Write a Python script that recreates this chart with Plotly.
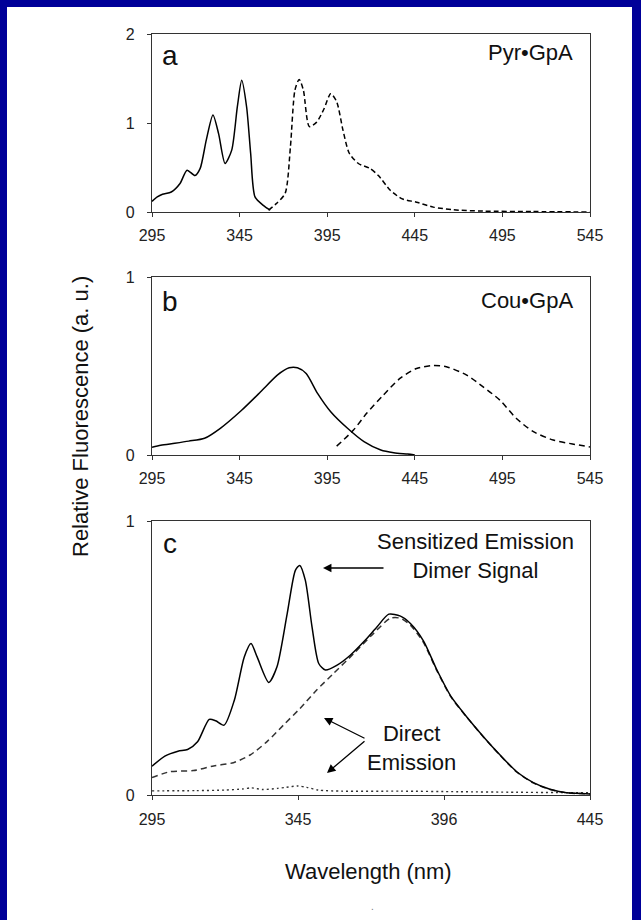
import plotly.graph_objects as go

# ---------------- data ----------------
# Panel a: Pyr-GpA
pyr_exc_x = [295, 298, 301, 306, 311, 315, 319.5, 322.5, 326, 329.8, 333, 336.7, 340.5, 343.7, 346.2, 349, 351.3, 353.8, 358.5, 362.5]
pyr_exc_y = [0.12, 0.17, 0.2, 0.225, 0.32, 0.47, 0.41, 0.49, 0.81, 1.09, 0.88, 0.545, 0.695, 1.18, 1.48, 1.18, 0.66, 0.17, 0.075, 0.02]
pyr_em_x = [361.5, 366, 371, 374, 376.6, 379, 381.4, 384.8, 389, 393.2, 397, 400.4, 404, 407.6, 412.8,
            419.4, 424.2, 431, 437.5, 446, 455.6, 467, 484, 512, 545]
pyr_em_y = [0.02, 0.095, 0.21, 0.73, 1.37, 1.49, 1.37, 0.96, 1.01, 1.16, 1.33, 1.24, 0.92, 0.66, 0.545,
            0.49, 0.41, 0.245, 0.15, 0.11, 0.055, 0.025, 0.01, 0.005, 0.0]

# Panel b: Cou-GpA
cou_exc_x = [295, 300, 308, 316, 325, 334, 346, 357, 366.7, 373.3, 378, 383, 389.5, 397, 406.6, 416, 425.6, 433, 441, 445]
cou_exc_y = [0.043, 0.055, 0.066, 0.078, 0.094, 0.15, 0.25, 0.355, 0.45, 0.49, 0.49, 0.458, 0.346, 0.243, 0.15, 0.075, 0.028, 0.013, 0.005, 0.0]
cou_em_x = [400.4, 410, 417.5, 427, 436.5, 446, 455.6, 463, 474.6, 484, 493.6, 503, 512.7, 524, 535, 545]
cou_em_y = [0.05, 0.14, 0.234, 0.336, 0.43, 0.486, 0.503, 0.496, 0.449, 0.383, 0.308, 0.205, 0.131, 0.084, 0.062, 0.045]

# Panel c: dimer
sens_x = [295, 299.4, 303.9, 307.2, 310.6, 314.6, 316.8, 319.7, 323.2, 326.6, 328.9, 331, 335, 337.8, 341.3,
          344.1, 345.6, 347.5, 349.8, 352.1, 354.4, 358.4, 362.9, 367.5, 372.1, 376.1, 380.1, 383.5, 388,
          392.5, 397.5, 402.8, 408.5, 414.2, 419.9, 425.6, 431.3, 437, 445]
sens_y = [0.105, 0.142, 0.16, 0.166, 0.194, 0.276, 0.271, 0.255, 0.346, 0.504, 0.553, 0.504, 0.411, 0.468, 0.662,
          0.82, 0.838, 0.784, 0.614, 0.48, 0.456, 0.474, 0.51, 0.559, 0.614, 0.66, 0.653, 0.626, 0.562,
          0.458, 0.358, 0.285, 0.213, 0.146, 0.085, 0.045, 0.021, 0.008, 0.004]
dir_cou_x = [295, 301.2, 309.2, 316.1, 322.9, 328.6, 334.3, 340, 345.7, 351.4, 357.2, 364, 370.9, 376.6, 380.1,
             383.5, 388, 392.5, 397.5, 402.8, 408.5, 414.2, 419.9, 425.6, 431.3, 437, 445]
dir_cou_y = [0.064, 0.085, 0.089, 0.106, 0.118, 0.146, 0.194, 0.255, 0.316, 0.383, 0.444, 0.515, 0.59, 0.645, 0.645,
             0.62, 0.556, 0.455, 0.356, 0.284, 0.212, 0.145, 0.084, 0.044, 0.02, 0.008, 0.004]
dir_pyr_x = [295, 310, 320, 326, 329, 333, 338, 341, 345, 348, 352, 360, 380, 400, 420, 445]
dir_pyr_y = [0.015, 0.016, 0.018, 0.022, 0.026, 0.02, 0.024, 0.028, 0.033, 0.028, 0.018, 0.014, 0.014, 0.012, 0.01, 0.008]

ticks_ab = [295, 345, 395, 445, 495, 545]
ticks_c = [295, 345, 395, 445]
ticktext_c = ["295", "345", "396", "445"]

# ---------------- layout helpers ----------------
W, H = 641, 920
FONT = "Liberation Sans, Arial, sans-serif"
BLUE = "#000099"
AX = "#333333"

def px(x):
    return x / W

def py(y):
    return 1 - y / H

x_dom = [px(152), px(590)]

fig = go.Figure()

def line(x, y, xa, ya, dash="solid", color="black", width=1.5):
    fig.add_trace(go.Scatter(x=x, y=y, xaxis=xa, yaxis=ya, mode="lines",
                             line=dict(color=color, width=width, dash=dash, shape="spline", smoothing=0.7),
                             showlegend=False, hoverinfo="skip"))

line(pyr_exc_x, pyr_exc_y, "x", "y")
line(pyr_em_x, pyr_em_y, "x", "y", dash="5px,3px")
line(cou_exc_x, cou_exc_y, "x2", "y2")
line(cou_em_x, cou_em_y, "x2", "y2", dash="6px,4px")
line(dir_pyr_x, dir_pyr_y, "x3", "y3", dash="2px,3px", color="#333333", width=1.4)
line(dir_cou_x, dir_cou_y, "x3", "y3", dash="6px,4px", color="#333333")
line(sens_x, sens_y, "x3", "y3")

axis_common = dict(showgrid=False, zeroline=False, showline=True, linecolor=AX, linewidth=1.3,
                   mirror=True, ticks="outside", ticklen=4, tickwidth=1.2, tickcolor=AX,
                   automargin=False,
                   tickfont=dict(family=FONT, size=16, color="#222222"))

fig.update_layout(
    width=W, height=H,
    margin=dict(l=0, r=0, t=0, b=0, pad=0, autoexpand=False),
    paper_bgcolor="white", plot_bgcolor="white",
    xaxis=dict(domain=x_dom, range=[295, 545], tickvals=ticks_ab, anchor="y",
               ticklabelstandoff=5, **axis_common),
    yaxis=dict(domain=[py(212), py(34)], range=[0, 2], tickvals=[0, 1, 2], anchor="x",
               ticklabelstandoff=9, **axis_common),
    xaxis2=dict(domain=x_dom, range=[295, 545], tickvals=ticks_ab, anchor="y2",
                ticklabelstandoff=5, **axis_common),
    yaxis2=dict(domain=[py(455), py(277)], range=[0, 1], tickvals=[0, 1], anchor="x2",
                ticklabelstandoff=9, **axis_common),
    xaxis3=dict(domain=x_dom, range=[295, 445], tickvals=ticks_c, ticktext=ticktext_c, anchor="y3",
                ticklabelstandoff=6, **axis_common),
    yaxis3=dict(domain=[py(795), py(521)], range=[0, 1], tickvals=[0, 1], anchor="x3",
                ticklabelstandoff=9, **axis_common),
)

# blue slide frame: left, top and right strips
for (x0, x1, y0, y1) in [(0, 7, 0, 920), (0, 641, 0, 7), (632, 641, 0, 920)]:
    fig.add_shape(type="rect", xref="paper", yref="paper", x0=px(x0), x1=px(x1), y0=py(y1), y1=py(y0),
                  fillcolor=BLUE, line=dict(width=0), layer="above")

def txt(text, x, y, size, xanchor="center", yanchor="middle", align="center", textangle=0, color="#111111"):
    fig.add_annotation(text=text, x=px(x), y=py(y), xref="paper", yref="paper", showarrow=False,
                       xanchor=xanchor, yanchor=yanchor, align=align, textangle=textangle,
                       font=dict(family=FONT, size=size, color=color))

txt("a", 170, 56, 28)
txt("b", 170, 301, 28)
txt("c", 170, 543, 28)
txt("Pyr\u2022GpA", 575, 52, 22, xanchor="right")
txt("Cou\u2022GpA", 575, 300, 22, xanchor="right")
txt("Sensitized Emission<br>Dimer Signal", 475, 556, 22)
txt("Direct<br>Emission", 411, 748, 22)
txt("Relative Fluorescence (a. u.)", 80, 417, 22, textangle=-90)
txt("Wavelength (nm)", 368, 871, 22)
txt(".", 372, 906, 10, color="#777777")

def arrow(hx, hy, tx, ty):
    fig.add_annotation(x=px(hx), y=py(hy), xref="paper", yref="paper", text="", showarrow=True,
                       ax=tx - hx, ay=ty - hy, arrowhead=2, arrowsize=1.3, arrowwidth=1.3,
                       arrowcolor="black")

arrow(323, 568, 385, 568)
arrow(324, 718, 366, 739)
arrow(327, 773, 366, 740)

fig.write_html("out.html")
